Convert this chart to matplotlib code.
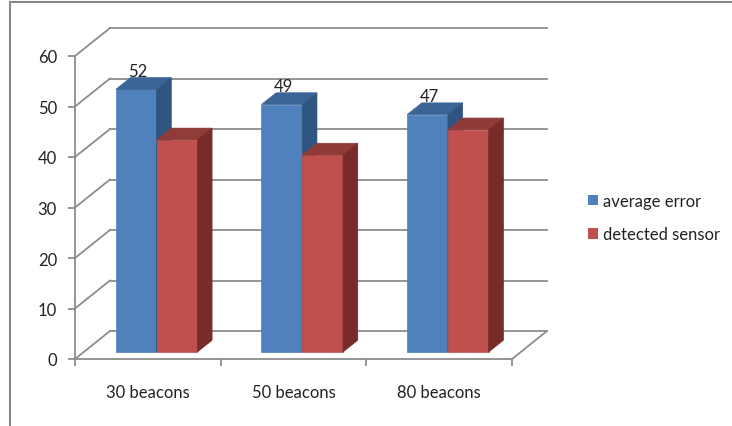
import matplotlib.pyplot as plt
from matplotlib.patches import Polygon, Patch
from matplotlib.lines import Line2D

categories = ['30 beacons', '50 beacons', '80 beacons']
average_error = [52, 49, 47]
detected_sensor = [42, 39, 44]
series_names = ['average error', 'detected sensor']
y_ticks = [0, 10, 20, 30, 40, 50, 60]

# front / top / side shades for each series
blue = ('#4f81bd', '#3b6596', '#2f5580')
red = ('#c0504d', '#8e3b39', '#772c2a')
grid_col = '#8c8c8c'
text_col = '#222222'

plt.rcParams['font.family'] = ['Lato', 'DejaVu Sans']

W, H = 732, 427
fig = plt.figure(figsize=(W / 100, H / 100), dpi=100)
fig.patch.set_facecolor('white')

# front plane of the 3d box, in pixels
left, right, top, bottom = 75, 512, 57, 360
ax = fig.add_axes([left / W, 1 - bottom / H, (right - left) / W, (bottom - top) / H])
ax.set_xlim(0, 3)
ax.set_ylim(0, 60)
ax.patch.set_alpha(0)

# depth of the box in pixels -> data units
depth_px = (35, 28)
DX = depth_px[0] * 3 / (right - left)
DY = depth_px[1] * 60 / (bottom - top)


def proj(x, v, d):
    return (x + d * DX, v + d * DY)


# back wall gridlines and left wall diagonals
for v in y_ticks:
    xs, ys = zip(proj(0, v, 1), proj(3, v, 1))
    ax.add_line(Line2D(xs, ys, color=grid_col, lw=1.3, clip_on=False, zorder=1))
    xs, ys = zip(proj(0, v, 0), proj(0, v, 1))
    ax.add_line(Line2D(xs, ys, color=grid_col, lw=1.3, clip_on=False, zorder=1))
xs, ys = zip(proj(3, 0, 0), proj(3, 0, 1))
ax.add_line(Line2D(xs, ys, color=grid_col, lw=1.3, clip_on=False, zorder=1))

d0, d1 = 0.25, 0.67
bw = 0.28


def bar3d(x0, v, shades):
    x1 = x0 + bw
    front = [proj(x0, 0, d0), proj(x1, 0, d0), proj(x1, v, d0), proj(x0, v, d0)]
    topf = [proj(x0, v, d0), proj(x1, v, d0), proj(x1, v, d1), proj(x0, v, d1)]
    side = [proj(x1, 0, d0), proj(x1, v, d0), proj(x1, v, d1), proj(x1, 0, d1)]
    for pts, c in zip((front, topf, side), shades):
        ax.add_patch(Polygon(pts, closed=True, facecolor=c, edgecolor=c,
                             lw=0.5, clip_on=False, zorder=3))


for i in range(len(categories)):
    c = i + 0.5
    bar3d(c - bw, average_error[i], blue)
    bar3d(c, detected_sensor[i], red)
    # value label above the blue bar
    xl = proj(c - bw / 2, 0, d0)[0]
    yl = proj(0, average_error[i], d1)[1]
    ax.annotate(str(average_error[i]), (xl, yl), xytext=(1, -1),
                textcoords='offset points', ha='center', va='bottom',
                fontsize=12, color=text_col, annotation_clip=False, zorder=5)

# axes: front vertical line and front floor edge
for s in ('top', 'right'):
    ax.spines[s].set_visible(False)
for s in ('left', 'bottom'):
    ax.spines[s].set_color(grid_col)
    ax.spines[s].set_linewidth(1.3)
ax.set_yticks(y_ticks)
ax.set_yticklabels([str(t) for t in y_ticks])
ax.set_xticks([0, 1, 2, 3])
ax.set_xticklabels([])
ax.set_xticks([0.5, 1.5, 2.5], minor=True)
ax.set_xticklabels(categories, minor=True)
ax.tick_params(axis='y', length=5, width=1.3, color=grid_col, pad=8,
               labelsize=12, labelcolor=text_col)
ax.tick_params(axis='x', which='major', length=5, width=1.3, color=grid_col)
ax.tick_params(axis='x', which='minor', length=0, pad=18,
               labelsize=12, labelcolor=text_col)

handles = [Patch(facecolor=blue[0], edgecolor='none'),
           Patch(facecolor=red[0], edgecolor='none')]
fig.legend(handles, series_names, loc='upper left',
           bbox_to_anchor=(573 / W, 1 - 179 / H), frameon=False,
           fontsize=12, handlelength=0.6, handleheight=0.6,
           handletextpad=0.3, labelspacing=1.05, labelcolor=text_col)

# chart border (left and top edges)
fig.add_artist(Line2D([10 / W, 10 / W], [0, 1 - 3 / H], color='#888888',
                      lw=1.5, transform=fig.transFigure))
fig.add_artist(Line2D([10 / W, 1], [1 - 3 / H, 1 - 3 / H], color='#888888',
                      lw=1.5, transform=fig.transFigure))

fig.savefig('out.png', dpi=100)
